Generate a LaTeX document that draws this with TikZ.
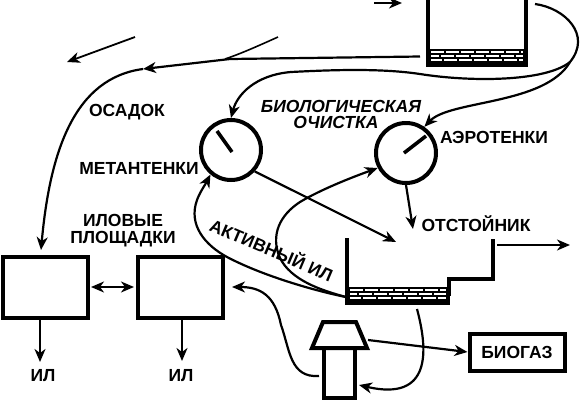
\documentclass[tikz,border=0pt]{standalone}
\usepackage{fontspec}
\setmainfont{Liberation Sans}
\usetikzlibrary{arrows.meta,calc}
\tikzset{
 lbl/.style={font=\fontsize{17.5}{17}\selectfont\bfseries,inner sep=0pt,align=center},
 ilbl/.style={font=\fontsize{17.5}{17}\selectfont\bfseries\itshape,inner sep=0pt},
 flow/.style={line width=2.2pt,-{Stealth[length=13pt,width=11pt,inset=4pt]}},
 plain/.style={line width=2.2pt},
 wall/.style={line width=4pt,line cap=butt},
 tankbox/.style={draw,line width=4.6pt,minimum width=85pt,minimum height=61pt,inner sep=0pt},
 dial/.style={draw,circle,line width=4pt,minimum size=60pt,inner sep=0pt},
 gasbox/.style={draw,line width=4pt,minimum width=95pt,minimum height=37pt,inner sep=0pt},
 needle/.style={line width=3.6pt},
 sludge/.style={draw=none,fill=black,inner sep=0pt},
 brick/.style={white,line width=1.1pt,dash pattern=on 13pt off 2pt,line cap=butt},
}
\begin{document}
\begin{tikzpicture}[x=1pt,y=-1pt]
\useasboundingbox (0,0) rectangle (582,400);
% top tank
\node[sludge,minimum width=102pt,minimum height=18pt] (tsl) at (477,58) {};
\draw[wall,line width=4.6pt] (428,0) -- (428,67);
\draw[wall,line width=4.6pt] (526,0) -- (526,67);
\foreach \y/\o in {52/0,56/5,60/2}{\draw[brick,dash phase=\o pt] (431,\y) -- (523,\y);}
\coordinate (tl) at (420,56.5);
\coordinate (tr) at (535,4);
% free arrows at top
\coordinate (a1) at (374,3); \coordinate (a2) at (402,3);
\draw[flow] (a1) -- (a2);
\coordinate (b1) at (135,37); \coordinate (b2) at (67,62);
\draw[flow,line width=1.8pt] (b1) -- (b2);
\coordinate (c1) at (278,37); \coordinate (c2) at (225,59);
\draw[plain,line width=1.6pt] (c1) .. controls (258,46) and (240,54) .. (c2);
% dials
\node[dial] (met) at (231,150) {};
\node[dial] (aer) at (406,153) {};
\coordinate (mn) at (217,131); \coordinate (mc) at (232,152);
\draw[needle] (mn) -- (mc);
\coordinate (an) at (426,136); \coordinate (ac) at (404,153);
\draw[needle] (an) -- (ac);
% osadok line
\coordinate (ost) at (41,250);
\coordinate (osm) at (143,69);
\draw[flow] (tl) -- (230,59) -- (osm);
\draw[flow] (osm) .. controls (75,78) and (50,150) .. (ost);
% returns from top tank
\coordinate (j) at (570,62);
\draw[plain] (tr) .. controls (565,8) and (592,35) .. (j)
  .. controls (545,82) and (470,82) .. (420,74) .. controls (380,68) and (330,70) .. (291,72);
\draw[flow] (291,72) .. controls (255,75) and (237,95) .. (met.north);
\draw[flow] (j) .. controls (545,105) and (450,100) .. (aer.55);
% texts
\node[lbl] (osd) at (127,112) {ОСАДОК};
\node[lbl] (mtk) at (139,168) {МЕТАНТЕНКИ};
\node[lbl] (atk) at (494,137) {АЭРОТЕНКИ};
\node[ilbl] (bio1) at (341,106) {БИОЛОГИЧЕСКАЯ};
\node[ilbl] (bio2) at (336,122) {ОЧИСТКА};
\node[lbl] (otk) at (476,224) {ОТСТОЙНИК};
\node[lbl] (ilp) at (123,231) {ИЛОВЫЕ\\ПЛОЩАДКИ};
\node[lbl,rotate=-23] (aktv) at (272,249) {АКТИВНЫЙ ИЛ};
% settler
\node[sludge,minimum width=103pt,minimum height=18pt] (ssl) at (398.5,296) {};
\draw[wall] (347,238) -- (347,305);
\draw[wall,line join=miter] (449,296) -- (449,279) -- (493,279) -- (493,239);
\foreach \y/\o in {290/0,294/6,298/2}{\draw[brick,dash phase=\o pt] (350,\y) -- (446,\y);}
\coordinate (sin) at (396,242);
\coordinate (sto) at (413,229);
\coordinate (sl) at (346,297);
\coordinate (sb) at (417,309);
\coordinate (ou1) at (497,245); \coordinate (ou2) at (570,245);
\draw[flow] (ou1) -- (ou2);
\draw[flow] (met.-42) -- (sin);
\draw[flow] (aer.south) -- (sto);
% active sludge
\draw[flow] (sl) .. controls (320,292) and (265,277) .. (227,257) .. controls (205,245) and (188,225) .. (197,200) .. controls (200,192) and (205,185) .. (met.-130);
\draw[flow] (sl) .. controls (320,290) and (291,280) .. (280,258) .. controls (270,235) and (280,215) .. (300,202) .. controls (320,190) and (350,178) .. (aer.-152);
% boxes
\node[tankbox] (pl1) at (45.5,287.5) {};
\node[tankbox] (pl2) at (180.5,287.5) {};
\draw[flow,{Stealth[length=13pt,width=11pt,inset=4pt]}-{Stealth[length=13pt,width=11pt,inset=4pt]}] (91,287) -- (134,287);
\coordinate (d1) at (40,362); \coordinate (d2) at (182,361);
\draw[flow] (pl1.south -| d1) -- (d1);
\draw[flow] (pl2.south -| d2) -- (d2);
\node[lbl] (il1) at (43,376) {ИЛ};
\node[lbl] (il2) at (181,376) {ИЛ};
% digester
\draw[line width=4pt,line join=miter,fill=white] (323,322) -- (356,322) -- (367,348) -- (312,348) -- cycle;
\draw[line width=4pt,line join=miter] (324,348) -- (324,398) -- (355,398) -- (355,348);
\node[gasbox] (gas) at (517,352) {};
\node[lbl] at (gas) {БИОГАЗ};
\coordinate (dg) at (368,340); \coordinate (dw) at (319,376);
\draw[flow] (dg) -- (gas.west);
\draw[flow] (dw) .. controls (290,378) and (290,350) .. (281,325) .. controls (275,295) and (260,287) .. (232,287);
\coordinate (dr) at (359,385);
\draw[flow] (sb) .. controls (428,350) and (432,402) .. (dr);
\end{tikzpicture}
\end{document}
